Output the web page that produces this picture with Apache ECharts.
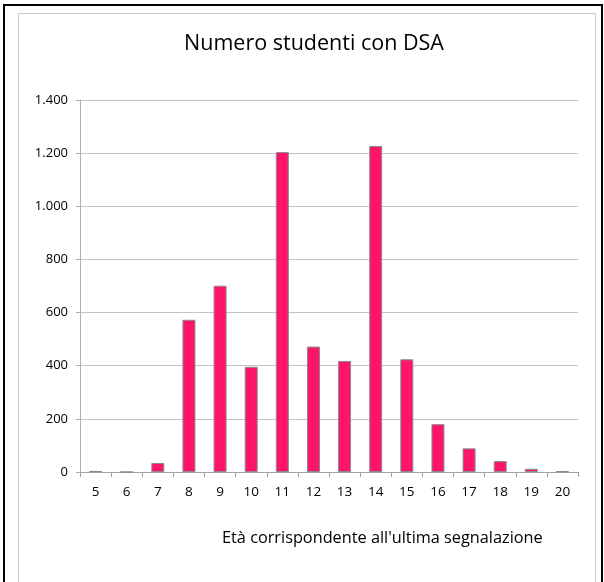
<!DOCTYPE html>
<html><head><meta charset="utf-8">
<script src="https://cdn.jsdelivr.net/npm/echarts@6/dist/echarts.min.js"></script>
<style>html,body{margin:0;padding:0;background:#fff}#c{width:604px;height:582px}</style>
</head><body><div id="c"></div>
<script>
var categories = ['5','6','7','8','9','10','11','12','13','14','15','16','17','18','19','20'];
var values = [4, 0, 34, 573, 701, 396, 1204, 472, 418, 1227, 424, 180, 89, 41, 12, 3];
var yTicks = [0, 200, 400, 600, 800, 1000, 1200, 1400];
var titleText = 'Numero studenti con DSA';
var xName = "Età corrispondente all'ultima segnalazione";

var chart = echarts.init(document.getElementById('c'), null, {renderer: 'canvas'});
var font = 'Open Sans';
chart.setOption({
  animation: false,
  title: {text: titleText, left: 309, top: 28, textAlign: 'center',
    textStyle: {fontFamily: font, fontSize: 21.5, fontWeight: 'normal', color: '#000'}},
  grid: {left: 80, right: 26, top: 100, bottom: 110, containLabel: false},
  graphic: [
    {type: 'rect', shape: {x: 4, y: 5, width: 598, height: 580}, style: {fill: 'none', stroke: '#000', lineWidth: 2}, silent: true},
    {type: 'rect', shape: {x: 18.5, y: 13.5, width: 577, height: 575}, style: {fill: 'none', stroke: '#c8c8c8', lineWidth: 1}, silent: true},
    {type: 'text', left: 222, top: 530, style: {text: xName, fontFamily: font, fontSize: 16.3, fill: '#000'}}
  ],
  xAxis: {type: 'category', data: categories,
    axisLine: {lineStyle: {color: '#a0a0a0'}},
    axisTick: {show: true, length: 5, alignWithLabel: false, lineStyle: {color: '#a0a0a0'}},
    axisLabel: {fontFamily: font, fontSize: 13.5, color: '#000', margin: 13}},
  yAxis: {type: 'value', min: 0, max: 1400, interval: 200,
    axisLine: {show: true, lineStyle: {color: '#b0b0b0'}},
    axisTick: {show: true, length: 4, lineStyle: {color: '#b0b0b0'}},
    splitLine: {lineStyle: {color: '#c4c4c4'}},
    axisLabel: {fontFamily: font, fontSize: 13, color: '#000', margin: 12,
      formatter: function(v){ return v >= 1000 ? Math.floor(v/1000) + '.' + String(v%1000).padStart(3,'0') : String(v); }}},
  series: [{type: 'bar', data: values, barWidth: 13,
    itemStyle: {color: '#fe1468', borderColor: '#8a8a8a', borderWidth: 1}}]
});
</script></body></html>
